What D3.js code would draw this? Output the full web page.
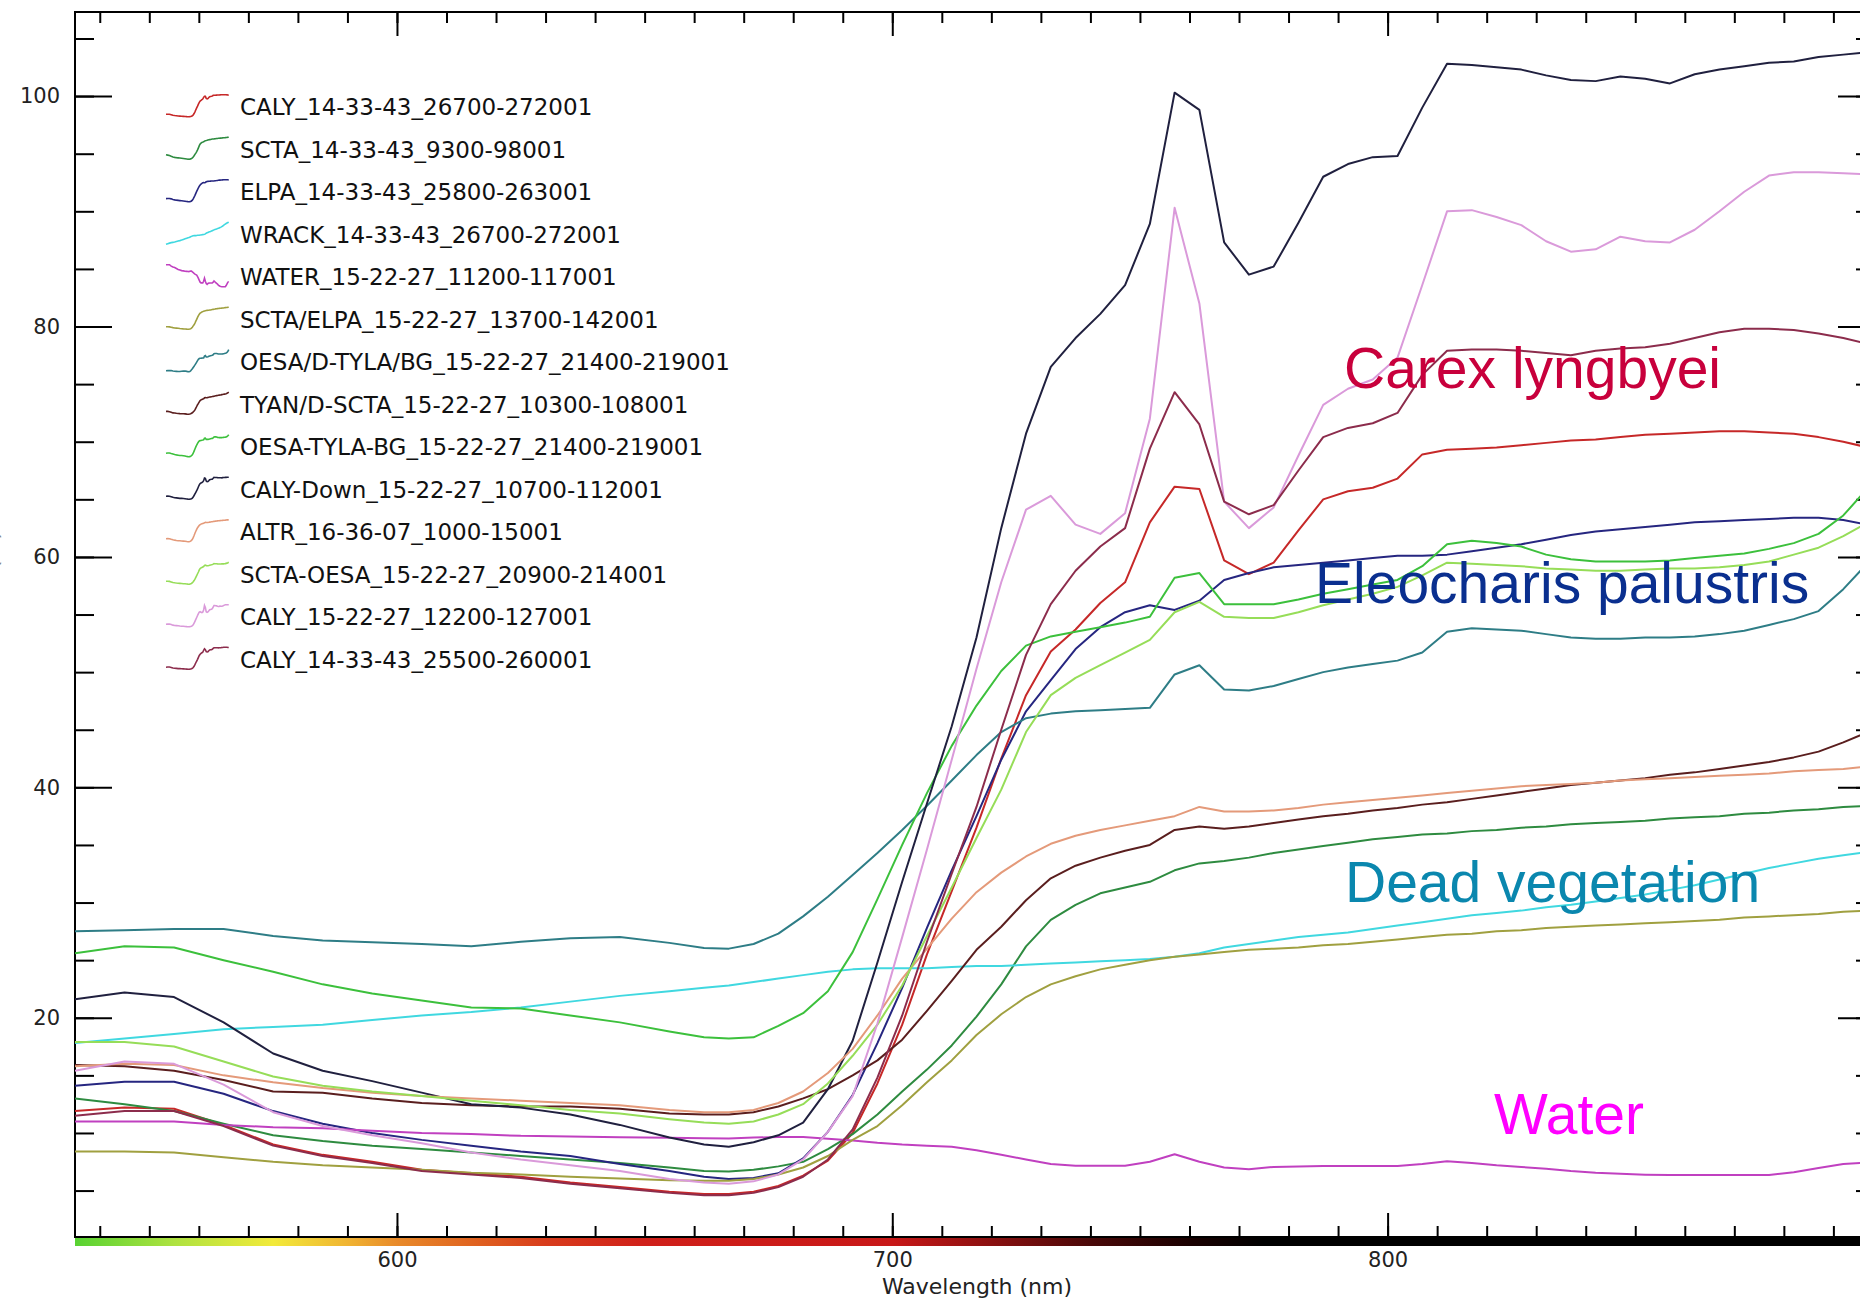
<!DOCTYPE html>
<html>
<head>
<meta charset="utf-8">
<script src="https://cdn.jsdelivr.net/npm/d3@7"></script>
<style>
  html, body { margin: 0; padding: 0; background: #fff; }
  svg { display: block; }
</style>
</head>
<body>
<div id="chart"></div>
<script>
/* DATA */
// wavelength grid (nm)
const wavelengths = [535, 545, 555, 565, 575, 585, 595, 605, 615, 625, 635, 645, 655, 662,
  667, 672, 677, 682, 687, 692, 697, 702, 707, 712, 717, 722, 727, 732, 737, 742, 747, 752,
  757, 762, 767, 772, 777, 782, 787, 792, 797, 802, 807, 812, 817, 822, 827, 832, 837, 842,
  847, 852, 857, 862, 867, 872, 877, 882, 887, 892, 897];

// reflectance (%) per spectrum
const caly267 = [11.9, 12.2, 12.1, 10.7, 9.0, 8.1, 7.5, 6.8, 6.5, 6.2, 5.7, 5.3, 4.9, 4.7, 4.7, 4.9, 5.4, 6.3, 7.6, 10.0, 14.3, 19.4, 25.5, 31.0, 36.5, 42.5, 48.0, 51.8, 53.7, 56.0, 57.8, 63.0, 66.1, 65.9, 59.7, 58.5, 59.5, 62.3, 65.0, 65.7, 66.0, 66.8, 68.9, 69.3, 69.4, 69.5, 69.7, 69.9, 70.1, 70.2, 70.4, 70.6, 70.7, 70.8, 70.9, 70.9, 70.8, 70.7, 70.4, 70.0, 69.5];
const scta = [13.0, 12.5, 11.9, 10.8, 9.8, 9.3, 8.9, 8.6, 8.3, 8.0, 7.7, 7.4, 7.0, 6.7, 6.65, 6.8, 7.1, 7.5, 8.6, 9.9, 11.6, 13.6, 15.5, 17.6, 20.1, 22.9, 26.2, 28.5, 29.8, 30.8, 31.3, 31.8, 32.8, 33.4, 33.6, 33.9, 34.3, 34.6, 34.9, 35.2, 35.5, 35.7, 35.9, 36.0, 36.2, 36.3, 36.5, 36.6, 36.8, 36.9, 37.0, 37.1, 37.3, 37.4, 37.5, 37.7, 37.8, 38.0, 38.1, 38.3, 38.4];
const elpa = [14.1, 14.45, 14.45, 13.4, 11.9, 10.8, 10.0, 9.4, 8.9, 8.4, 8.0, 7.3, 6.7, 6.2, 6.0, 6.1, 6.5, 7.8, 10.1, 13.3, 17.8, 22.6, 27.8, 32.8, 37.5, 42.4, 46.6, 49.3, 52.0, 53.9, 55.2, 55.8, 55.4, 56.2, 58.0, 58.6, 59.1, 59.3, 59.5, 59.7, 59.9, 60.1, 60.1, 60.2, 60.5, 60.8, 61.1, 61.5, 61.9, 62.2, 62.4, 62.6, 62.8, 63.0, 63.1, 63.2, 63.3, 63.4, 63.4, 63.2, 62.8];
const wrack = [17.8, 18.2, 18.6, 19.0, 19.2, 19.4, 19.8, 20.2, 20.5, 20.9, 21.4, 21.9, 22.3, 22.6, 22.8, 23.1, 23.4, 23.7, 24.0, 24.2, 24.3, 24.3, 24.3, 24.4, 24.5, 24.5, 24.6, 24.7, 24.8, 24.9, 25.0, 25.1, 25.3, 25.6, 26.1, 26.4, 26.7, 27.0, 27.2, 27.4, 27.7, 28.0, 28.3, 28.6, 28.9, 29.1, 29.3, 29.6, 29.8, 30.1, 30.4, 30.7, 31.1, 31.5, 32.0, 32.5, 33.0, 33.4, 33.8, 34.1, 34.4];
const water = [11.0, 11.0, 11.0, 10.7, 10.5, 10.4, 10.2, 10.0, 9.9, 9.75, 9.7, 9.62, 9.58, 9.55, 9.53, 9.6, 9.65, 9.65, 9.5, 9.35, 9.15, 9.0, 8.9, 8.8, 8.5, 8.1, 7.7, 7.3, 7.15, 7.15, 7.15, 7.5, 8.15, 7.5, 7.0, 6.85, 7.05, 7.1, 7.13, 7.13, 7.13, 7.13, 7.3, 7.55, 7.4, 7.2, 7.05, 6.9, 6.7, 6.55, 6.45, 6.38, 6.35, 6.35, 6.35, 6.35, 6.35, 6.6, 6.95, 7.3, 7.45];
const sctaElpa = [8.4, 8.4, 8.3, 7.9, 7.5, 7.2, 7.0, 6.8, 6.55, 6.4, 6.2, 6.05, 5.9, 5.85, 5.85, 6.0, 6.4, 7.0, 8.0, 9.4, 10.6, 12.4, 14.4, 16.3, 18.5, 20.3, 21.8, 22.9, 23.6, 24.2, 24.6, 25.0, 25.3, 25.5, 25.7, 25.9, 26.0, 26.1, 26.3, 26.4, 26.6, 26.8, 27.0, 27.2, 27.3, 27.5, 27.6, 27.8, 27.9, 28.0, 28.1, 28.2, 28.3, 28.4, 28.5, 28.7, 28.8, 28.9, 29.0, 29.2, 29.3];
const oesaD = [27.5, 27.6, 27.7, 27.7, 27.1, 26.7, 26.55, 26.4, 26.2, 26.6, 26.9, 27.0, 26.5, 26.05, 26.0, 26.4, 27.3, 28.8, 30.5, 32.4, 34.3, 36.3, 38.4, 40.6, 42.8, 44.8, 46.0, 46.4, 46.6, 46.7, 46.8, 46.9, 49.8, 50.6, 48.5, 48.4, 48.8, 49.4, 50.0, 50.4, 50.7, 51.0, 51.7, 53.5, 53.8, 53.7, 53.6, 53.3, 53.0, 52.9, 52.9, 53.0, 53.0, 53.1, 53.3, 53.6, 54.1, 54.6, 55.3, 57.2, 59.5];
const tyan = [15.9, 15.8, 15.4, 14.6, 13.6, 13.5, 13.0, 12.6, 12.4, 12.3, 12.3, 12.1, 11.7, 11.6, 11.6, 11.8, 12.3, 13.0, 13.8, 15.0, 16.3, 18.1, 20.6, 23.2, 25.9, 27.9, 30.2, 32.1, 33.2, 33.9, 34.5, 35.0, 36.3, 36.6, 36.4, 36.6, 36.9, 37.2, 37.5, 37.7, 38.0, 38.2, 38.5, 38.7, 39.0, 39.3, 39.6, 39.9, 40.2, 40.4, 40.6, 40.8, 41.1, 41.3, 41.6, 41.9, 42.2, 42.6, 43.1, 43.9, 44.8];
const oesaTyla = [25.6, 26.2, 26.1, 25.0, 24.0, 22.9, 22.1, 21.5, 20.9, 20.8, 20.2, 19.6, 18.8, 18.3, 18.2, 18.3, 19.3, 20.4, 22.3, 25.7, 30.3, 35.0, 39.5, 43.6, 47.1, 50.1, 52.3, 53.1, 53.5, 53.9, 54.3, 54.8, 58.2, 58.6, 55.9, 55.9, 55.9, 56.3, 56.8, 57.2, 57.6, 58.0, 59.2, 61.1, 61.4, 61.2, 60.9, 60.2, 59.8, 59.6, 59.6, 59.6, 59.7, 59.9, 60.1, 60.3, 60.7, 61.2, 62.0, 63.6, 66.0];
const calyDown = [21.6, 22.2, 21.8, 19.6, 16.9, 15.4, 14.5, 13.5, 12.5, 12.2, 11.6, 10.7, 9.6, 9.0, 8.8, 9.2, 9.8, 10.9, 13.8, 18.0, 24.8, 31.8, 38.6, 45.3, 53.0, 62.5, 70.7, 76.5, 79.0, 81.1, 83.6, 88.9, 100.3, 98.8, 87.3, 84.5, 85.2, 89.0, 93.0, 94.1, 94.7, 94.8, 99.0, 102.8, 102.7, 102.5, 102.3, 101.8, 101.4, 101.3, 101.7, 101.5, 101.1, 101.9, 102.3, 102.6, 102.9, 103.0, 103.4, 103.6, 103.8];
const altr = [15.8, 16.0, 15.9, 15.0, 14.4, 13.9, 13.5, 13.2, 13.0, 12.8, 12.6, 12.4, 12.0, 11.8, 11.8, 12.0, 12.6, 13.6, 15.2, 17.3, 20.2, 23.4, 26.0, 28.6, 30.9, 32.6, 34.0, 35.1, 35.8, 36.3, 36.7, 37.1, 37.5, 38.3, 37.9, 37.9, 38.0, 38.2, 38.5, 38.7, 38.9, 39.1, 39.3, 39.5, 39.7, 39.9, 40.1, 40.2, 40.3, 40.4, 40.6, 40.7, 40.8, 40.9, 41.0, 41.1, 41.2, 41.4, 41.5, 41.6, 41.8];
const sctaOesa = [17.9, 17.9, 17.5, 16.2, 14.9, 14.1, 13.6, 13.2, 12.8, 12.4, 12.0, 11.7, 11.2, 10.9, 10.8, 11.0, 11.6, 12.5, 14.3, 16.7, 19.4, 22.8, 27.1, 31.3, 35.6, 39.8, 44.8, 48.0, 49.5, 50.6, 51.7, 52.8, 55.2, 56.1, 54.8, 54.7, 54.7, 55.2, 55.8, 56.3, 56.8, 57.4, 58.4, 59.5, 59.4, 59.3, 59.2, 59.0, 58.9, 58.8, 58.8, 58.9, 59.0, 59.0, 59.1, 59.3, 59.6, 60.2, 60.8, 61.8, 63.0];
const caly15 = [15.4, 16.2, 16.0, 14.2, 11.8, 10.6, 9.8, 9.1, 8.3, 7.7, 7.2, 6.7, 6.0, 5.7, 5.6, 5.8, 6.4, 7.7, 10.1, 13.2, 19.5, 27.0, 34.6, 42.4, 50.3, 57.8, 64.1, 65.3, 62.8, 62.0, 63.8, 72.0, 90.3, 82.0, 64.8, 62.5, 64.3, 68.8, 73.2, 74.6, 75.4, 77.3, 83.6, 90.0, 90.1, 89.5, 88.8, 87.4, 86.5, 86.7, 87.8, 87.4, 87.3, 88.4, 90.0, 91.7, 93.1, 93.4, 93.4, 93.3, 93.2];
const caly255 = [11.5, 11.9, 11.9, 10.6, 8.9, 8.0, 7.4, 6.7, 6.4, 6.1, 5.6, 5.2, 4.8, 4.6, 4.6, 4.8, 5.3, 6.2, 7.7, 10.3, 14.8, 20.2, 26.6, 32.5, 38.3, 45.0, 51.5, 55.9, 58.8, 60.9, 62.5, 69.4, 74.3, 71.5, 64.8, 63.7, 64.5, 67.5, 70.4, 71.2, 71.6, 72.5, 75.8, 77.9, 78.0, 78.0, 77.9, 77.7, 77.5, 77.9, 78.1, 78.2, 78.5, 79.0, 79.5, 79.8, 79.8, 79.7, 79.4, 79.0, 78.5];

const seriesNames = [
  "CALY_14-33-43_26700-272001", "SCTA_14-33-43_9300-98001", "ELPA_14-33-43_25800-263001",
  "WRACK_14-33-43_26700-272001", "WATER_15-22-27_11200-117001", "SCTA/ELPA_15-22-27_13700-142001",
  "OESA/D-TYLA/BG_15-22-27_21400-219001", "TYAN/D-SCTA_15-22-27_10300-108001",
  "OESA-TYLA-BG_15-22-27_21400-219001", "CALY-Down_15-22-27_10700-112001",
  "ALTR_16-36-07_1000-15001", "SCTA-OESA_15-22-27_20900-214001",
  "CALY_15-22-27_12200-127001", "CALY_14-33-43_25500-260001"];
const seriesValues = [caly267, scta, elpa, wrack, water, sctaElpa, oesaD, tyan,
  oesaTyla, calyDown, altr, sctaOesa, caly15, caly255];
const seriesColors = ["#c62828", "#2e8b40", "#262680", "#40d8e0", "#c040c0", "#a0a040",
  "#2e7d86", "#5a1e1e", "#3cc03c", "#20203f", "#e49a7a", "#96dd58", "#da9ada", "#8c2c4c"];

const xMajorTicks = [600, 700, 800];
const xMinorTicks = d3.range(540, 900, 10);
const yMajorTicks = [20, 40, 60, 80, 100];
const yMinorTicks = d3.range(5, 110, 5);

const noteTexts = ["Carex lyngbyei", "Eleocharis palustris", "Dead vegetation", "Water"];

/* LAYOUT */
const W = 1860, H = 1301;
const plotL = 75, plotR = 1875, plotT = 12, plotB = 1237;

const svg = d3.select("#chart").append("svg").attr("width", W).attr("height", H);

const x = d3.scaleLinear().domain([535, 898.4]).range([plotL, plotR]);
const y = d3.scaleLinear().domain([0.97, 107.3]).range([plotB, plotT]);

const defs = svg.append("defs");
defs.append("clipPath").attr("id", "plotClip")
  .append("rect").attr("x", plotL).attr("y", plotT)
  .attr("width", plotR - plotL).attr("height", plotB - plotT);

/* COLOUR BAR under the x axis */
const barNm = [535, 555, 575, 590, 600, 615, 630, 650, 700, 720, 740, 760, 775, 898];
const barCol = ["#58d232", "#aee240", "#f2ea3a", "#f0b432", "#e88a2a", "#e06420", "#d83c1c",
  "#d0201a", "#c81818", "#8a1010", "#4a0808", "#1a0000", "#000000", "#000000"];
const grad = defs.append("linearGradient").attr("id", "specBar")
  .attr("gradientUnits", "userSpaceOnUse")
  .attr("x1", plotL).attr("x2", plotR).attr("y1", 0).attr("y2", 0);
barNm.forEach((nm, i) => {
  grad.append("stop")
    .attr("offset", (x(nm) - plotL) / (plotR - plotL))
    .attr("stop-color", barCol[i]);
});
svg.append("rect").attr("x", plotL).attr("y", plotB + 1)
  .attr("width", plotR - plotL).attr("height", 8).attr("fill", "url(#specBar)");

/* AXES */
function styleAxis(g) {
  g.select(".domain").remove();
  g.selectAll(".tick line").attr("stroke", "#000").attr("stroke-width", 2);
  g.selectAll(".tick text").attr("fill", "#222")
    .attr("font-family", "DejaVu Sans").attr("font-size", 21);
}

// bottom
svg.append("g").attr("transform", `translate(0,${plotB})`)
  .call(d3.axisBottom(x).tickValues(xMinorTicks).tickSize(-11).tickFormat(""))
  .call(styleAxis);
svg.append("g").attr("transform", `translate(0,${plotB})`)
  .call(d3.axisBottom(x).tickValues(xMajorTicks).tickSize(-24).tickPadding(15).tickFormat(d3.format("d")))
  .call(styleAxis);
// top
svg.append("g").attr("transform", `translate(0,${plotT})`)
  .call(d3.axisTop(x).tickValues(xMinorTicks).tickSize(-11).tickFormat(""))
  .call(styleAxis);
svg.append("g").attr("transform", `translate(0,${plotT})`)
  .call(d3.axisTop(x).tickValues(xMajorTicks).tickSize(-24).tickFormat(""))
  .call(styleAxis);
// left
svg.append("g").attr("transform", `translate(${plotL},0)`)
  .call(d3.axisLeft(y).tickValues(yMinorTicks).tickSize(-19).tickFormat(""))
  .call(styleAxis);
svg.append("g").attr("transform", `translate(${plotL},0)`)
  .call(d3.axisLeft(y).tickValues(yMajorTicks).tickSize(-37).tickPadding(15).tickFormat(d3.format("d")))
  .call(styleAxis);
// right
svg.append("g").attr("transform", `translate(${plotR},0)`)
  .call(d3.axisRight(y).tickValues(yMinorTicks).tickSize(-19).tickFormat(""))
  .call(styleAxis);
svg.append("g").attr("transform", `translate(${plotR},0)`)
  .call(d3.axisRight(y).tickValues(yMajorTicks).tickSize(-37).tickFormat(""))
  .call(styleAxis);

// frame
svg.append("path")
  .attr("d", `M${plotL},${plotB}V${plotT}H${plotR}V${plotB}Z`)
  .attr("fill", "none").attr("stroke", "#000").attr("stroke-width", 2);

// axis titles (the y title sits mostly beyond the left edge, as in the source)
svg.append("text").attr("x", 977).attr("y", 1294).attr("text-anchor", "middle")
  .attr("font-family", "DejaVu Sans").attr("font-size", 22).attr("fill", "#222")
  .text("Wavelength (nm)");
svg.append("text").attr("transform", "translate(-2,618) rotate(-90)")
  .attr("text-anchor", "middle")
  .attr("font-family", "DejaVu Sans").attr("font-size", 22).attr("fill", "#888")
  .text("Reflectance (%)");

/* LINES */
const line = d3.line()
  .x((d, i) => x(wavelengths[i]))
  .y((d) => y(d));

svg.append("g").attr("class", "lines").attr("clip-path", "url(#plotClip)")
  .selectAll("path")
  .data(seriesValues)
  .join("path")
  .attr("d", line)
  .attr("fill", "none")
  .attr("stroke", (d, i) => seriesColors[i])
  .attr("stroke-width", 2)
  .attr("stroke-linejoin", "round");

/* LEGEND: each icon is the spectrum itself squeezed into a small box */
const legend = svg.append("g").attr("class", "legend");
const rowY0 = 106.7, rowStep = 42.5;
const iconX = d3.scaleLinear().domain(x.domain()).range([166, 229]);

seriesValues.forEach((vals, i) => {
  const cy = rowY0 + i * rowStep;
  const iconY = d3.scaleLinear().domain(d3.extent(vals)).range([cy + 10, cy - 12]);
  legend.append("path")
    .attr("d", d3.line().x((d, k) => iconX(wavelengths[k])).y((d) => iconY(d))(vals))
    .attr("fill", "none")
    .attr("stroke", seriesColors[i])
    .attr("stroke-width", 1.6);
  legend.append("text")
    .attr("x", 240).attr("y", cy + 8.3)
    .attr("font-family", "DejaVu Sans").attr("font-size", 23).attr("fill", "#111")
    .text(seriesNames[i]);
});

/* ANNOTATIONS */
const notePos = [[1344, 388], [1315, 603], [1345, 902], [1494, 1134]];
const noteCol = ["#c8003c", "#0a2f8f", "#0a87ae", "#ff00ff"];
svg.append("g").attr("class", "notes")
  .selectAll("text")
  .data(noteTexts)
  .join("text")
  .attr("x", (d, i) => notePos[i][0])
  .attr("y", (d, i) => notePos[i][1])
  .attr("font-family", "Liberation Sans, Arial, sans-serif")
  .attr("font-size", 57)
  .attr("fill", (d, i) => noteCol[i])
  .text((d) => d);
</script>
</body>
</html>
